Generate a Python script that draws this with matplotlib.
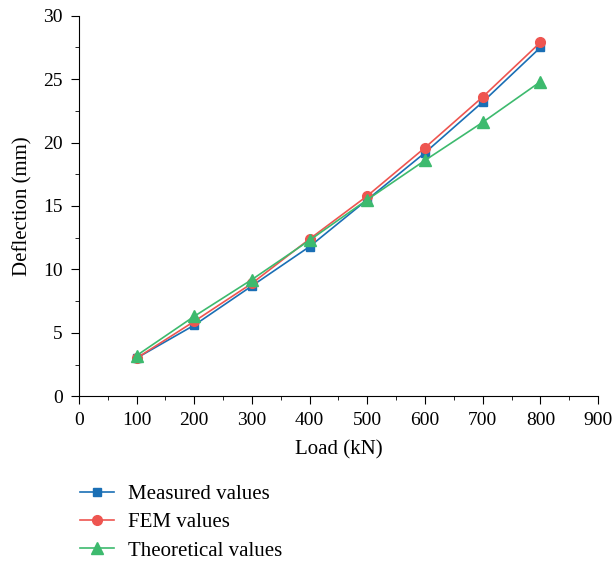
import matplotlib.pyplot as plt
from matplotlib.ticker import MultipleLocator

load = [100, 200, 300, 400, 500, 600, 700, 800]
measured = [3.0, 5.6, 8.7, 11.8, 15.5, 19.2, 23.2, 27.5]
fem = [3.0, 5.9, 8.9, 12.4, 15.8, 19.6, 23.6, 27.9]
theory = [3.2, 6.3, 9.2, 12.3, 15.5, 18.6, 21.6, 24.8]

plt.rcParams['font.family'] = ['Liberation Serif', 'DejaVu Serif']

fig = plt.figure(figsize=(6.16, 5.62), dpi=100)
ax = fig.add_axes([0.128, 0.295, 0.843, 0.677])

ax.plot(load, measured, color='#1a6fb5', marker='s', ms=6, lw=1.2, label='Measured values')
ax.plot(load, fem, color='#ee5550', marker='o', ms=7, lw=1.2, label='FEM values')
ax.plot(load, theory, color='#3dba6e', marker='^', ms=8, lw=1.2, label='Theoretical values')

ax.set_xlim(0, 900)
ax.set_ylim(0, 30)
ax.xaxis.set_major_locator(MultipleLocator(100))
ax.xaxis.set_minor_locator(MultipleLocator(50))
ax.yaxis.set_major_locator(MultipleLocator(5))
ax.yaxis.set_minor_locator(MultipleLocator(2.5))
ax.spines['top'].set_visible(False)
ax.spines['right'].set_visible(False)
ax.tick_params(which='major', direction='out', length=5.5, pad=6, labelsize=14)
ax.tick_params(which='minor', direction='out', length=3)
ax.set_xlabel('Load (kN)', fontsize=15, labelpad=8)
ax.set_ylabel('Deflection (mm)', fontsize=15, labelpad=8)

fig.legend(loc='upper left', bbox_to_anchor=(0.117, 0.153), frameon=False,
           fontsize=15, handlelength=1.6, handletextpad=0.7, labelspacing=0.42,
           borderaxespad=0)

fig.savefig('out.png', dpi=100)
